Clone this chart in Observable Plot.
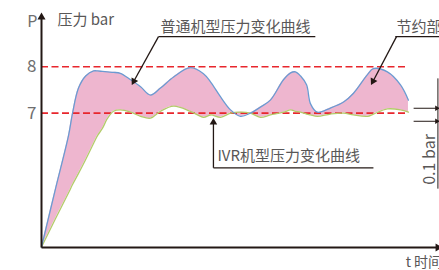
<!DOCTYPE html>
<html>
<head>
<meta charset="utf-8">
<script src="https://cdn.jsdelivr.net/npm/d3@7"></script>
<script src="https://cdn.jsdelivr.net/npm/@observablehq/plot@0.6"></script>
<style>
  html, body { margin: 0; padding: 0; background: #fff; overflow: hidden; }
  #chart svg { overflow: hidden; }
</style>
</head>
<body>
<div id="chart"></div>
<script>
// time (arbitrary units, 0..100)
const t = [0, 3.5, 6.8, 7.8, 9.3, 11.1, 13.1, 14.1, 15.3, 16.6, 18.1, 19.8, 22.4, 24.9, 27.4, 29.9, 33.2, 37.4, 40.7, 42.5, 45.0, 47.5, 50.0, 52.5, 55.0, 57.5, 60.8, 62.6, 63.8, 65.1, 66.6, 67.6, 69.3, 72.6, 75.9, 78.4, 81.9, 83.4, 86.9, 90.2, 92.2];
// 普通机型 pressure (bar)
const normalP = [4.11, 5.36, 6.52, 7.00, 7.54, 7.80, 7.91, 7.91, 7.90, 7.89, 7.88, 7.86, 7.72, 7.57, 7.39, 7.54, 7.78, 7.98, 7.85, 7.67, 7.35, 7.07, 6.93, 7.00, 7.13, 7.28, 7.72, 7.87, 7.89, 7.80, 7.61, 7.20, 7.02, 7.11, 7.24, 7.43, 7.83, 7.96, 7.89, 7.61, 7.28];
// IVR机型 pressure (bar)
const ivrP = [4.11, 4.72, 5.28, 5.46, 5.70, 6.00, 6.35, 6.52, 6.67, 6.89, 7.04, 7.07, 7.02, 6.93, 6.89, 7.04, 7.15, 7.04, 6.91, 6.96, 6.91, 7.00, 7.02, 7.00, 6.91, 6.96, 7.02, 7.07, 7.04, 7.02, 6.98, 6.96, 6.93, 6.98, 7.00, 6.96, 6.93, 6.98, 7.09, 7.07, 7.02];
// reference levels / tick labels
const yTicks = [7, 8];

const data = t.map((d, i) => ({t: d, normal: normalP[i], ivr: ivrP[i]}));

const grey = "#595757";
const ink = "#231815";
const font = "'Noto Sans CJK SC', 'Noto Sans', sans-serif";

const chart = Plot.plot({
  width: 439,
  height: 270,
  marginLeft: 41,
  marginRight: 0,
  marginTop: 13,
  marginBottom: 23,
  style: {fontFamily: font, background: "#fff"},
  x: {domain: [0, 100], axis: null},
  y: {domain: [4.1, 9.15], axis: null},
  marks: [
    Plot.areaY(data, {x: "t", y1: "ivr", y2: "normal", fill: "#eeb6cf", curve: "catmull-rom"}),
    Plot.ruleY(yTicks, {y: d => d, x1: 0, x2: 91.5, stroke: "#e8262d", strokeWidth: 1.6, strokeDasharray: "7,3.5"}),
    Plot.line(data, {x: "t", y: "ivr", stroke: "#b3cb6a", strokeWidth: 1.3, curve: "catmull-rom"}),
    Plot.line(data, {x: "t", y: "normal", stroke: "#6b9bd2", strokeWidth: 1.3, curve: "catmull-rom"}),
    // axes
    Plot.link([0], {x1: 0, x2: 0, y1: 4.1, y2: 9.05, stroke: ink, strokeWidth: 2}),
    Plot.dot([0], {x: 0, y: 9.07, symbol: "triangle", r: 3, fill: ink, stroke: null}),
    Plot.link([0], {x1: 0, x2: 100, y1: 4.1, y2: 4.1, stroke: ink, strokeWidth: 2}),
    Plot.dot([0], {x: 99.6, y: 4.1, symbol: "triangle", r: 3, rotate: 90, fill: ink, stroke: null}),
    Plot.text(yTicks, {x: 0, y: d => d, text: d => String(d), dx: -5, textAnchor: "end", fontSize: 17, fill: "#6f6f6f"}),
    Plot.text(["P"], {x: 0, y: 8.98, text: d => d, dx: -4, textAnchor: "end", fontSize: 16, fill: "#6f6f6f"}),
    Plot.text(["压力 bar"], {x: 4.0, y: 9.0, text: d => d, textAnchor: "start", fontSize: 15, fill: grey}),
    Plot.text(["t 时间"], {x: 91.5, y: 3.77, text: d => d, textAnchor: "start", fontSize: 14, fill: grey}),
    // annotation: 普通机型
    Plot.text(["普通机型压力变化曲线"], {x: 29.9, y: 8.85, text: d => d, textAnchor: "start", fontSize: 15, fill: grey}),
    Plot.link([0], {x1: 29.4, x2: 68.8, y1: 8.65, y2: 8.65, stroke: ink, strokeWidth: 1.3}),
    Plot.link([0], {x1: 29.4, x2: 23.4, y1: 8.65, y2: 7.72, stroke: ink, strokeWidth: 1.3}),
    Plot.dot([0], {x: 23.2, y: 7.69, symbol: "triangle", r: 2.8, rotate: 208, fill: ink, stroke: null}),
    // annotation: 节约部分
    Plot.text(["节约部分"], {x: 89.2, y: 8.85, text: d => d, textAnchor: "start", fontSize: 15, fill: grey}),
    Plot.link([0], {x1: 88.9, x2: 100, y1: 8.65, y2: 8.65, stroke: ink, strokeWidth: 1.3}),
    Plot.link([0], {x1: 89.2, x2: 83.5, y1: 8.65, y2: 7.72, stroke: ink, strokeWidth: 1.3}),
    Plot.dot([0], {x: 83.3, y: 7.69, symbol: "triangle", r: 2.8, rotate: 208, fill: ink, stroke: null}),
    // annotation: IVR
    Plot.text(["IVR机型压力变化曲线"], {x: 44.2, y: 6.08, text: d => d, textAnchor: "start", fontSize: 15, fill: grey}),
    Plot.link([0], {x1: 43.2, x2: 83.4, y1: 5.82, y2: 5.82, stroke: ink, strokeWidth: 1.3}),
    Plot.link([0], {x1: 43.2, x2: 43.2, y1: 5.82, y2: 6.78, stroke: ink, strokeWidth: 1.3}),
    Plot.dot([0], {x: 43.2, y: 6.80, symbol: "triangle", r: 2.8, fill: ink, stroke: null}),
    // 0.1 bar bracket
    Plot.link([7.105, 6.824], {x1: 93.5, x2: 99.2, y1: d => d, y2: d => d, stroke: ink, strokeWidth: 1}),
    Plot.dot([7.105, 6.824], {x: 99.3, y: d => d, symbol: "triangle", r: 2, rotate: 90, fill: ink, stroke: null}),
    Plot.link([0], {x1: 99.6, x2: 99.6, y1: 7.75, y2: 5.37, stroke: ink, strokeWidth: 1}),
    Plot.text(["0.1 bar"], {x: 97.6, y: 6.0, text: d => d, rotate: -90, fontSize: 16, fill: grey})
  ]
});
document.getElementById("chart").append(chart);
</script>
</body>
</html>
